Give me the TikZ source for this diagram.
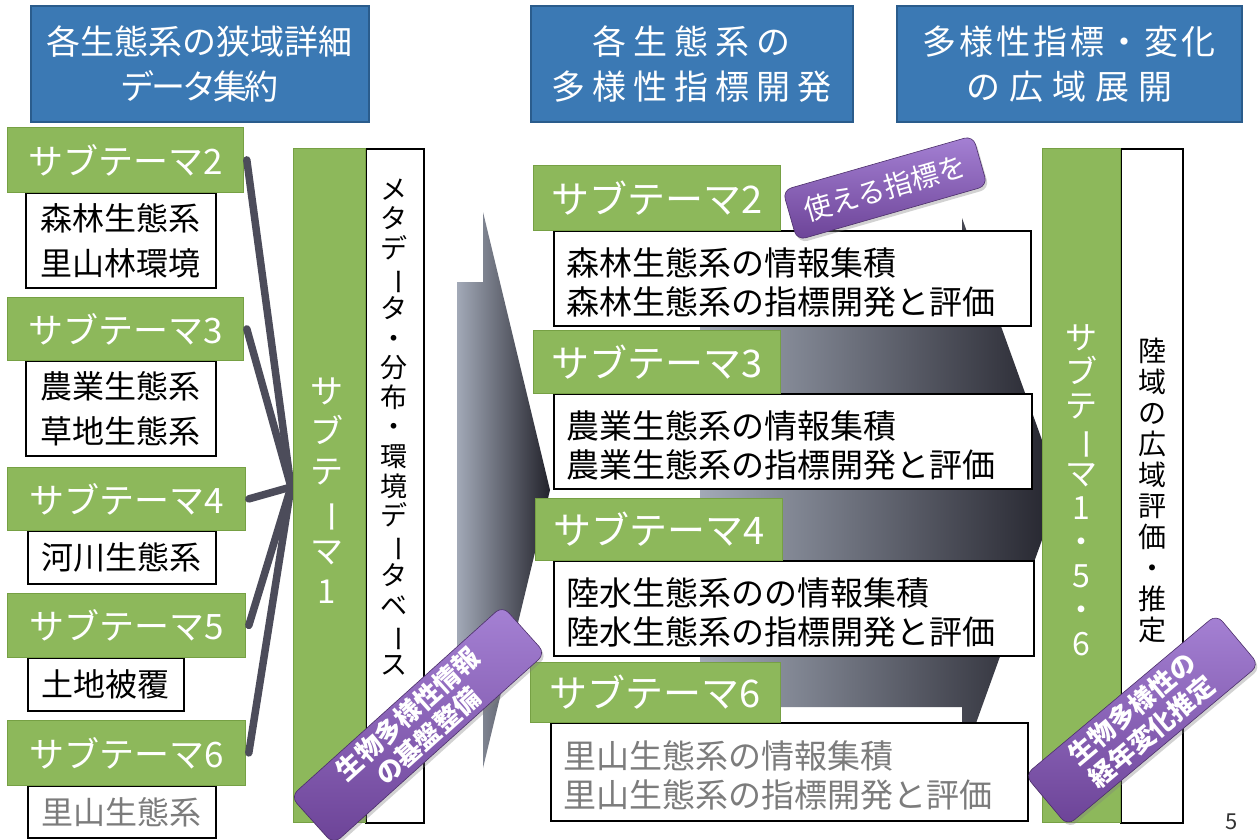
\documentclass[tikz,border=0pt]{standalone}
\usepackage{fontspec}
\usepackage{graphicx}
\setmainfont{Noto Sans CJK JP}
\usetikzlibrary{shadows}
\definecolor{hdrblue}{HTML}{3B79B4}
\definecolor{hdrborder}{HTML}{2A5C8C}
\definecolor{stgreen}{HTML}{8DB85B}
\definecolor{stgreenb}{HTML}{76A044}
\definecolor{purtop}{HTML}{A581D4}
\definecolor{purbot}{HTML}{6C4397}
\definecolor{linegray}{HTML}{4C4C5A}
\definecolor{arrowlight}{HTML}{A2A9B7}
\definecolor{arrowdark}{HTML}{23232C}
\definecolor{txtgray}{HTML}{7C7C7C}
\newcommand{\vbar}{\rotatebox[origin=c]{-90}{ー}}
\def\lspi#1{\ifx#1\relax\else\kern\lspamt#1\expandafter\lspi\fi}
\newcommand{\lsp}[2]{\mbox{\def\lspamt{#1}\kern-\lspamt\lspi#2\relax}}
\begin{document}
\begin{tikzpicture}[x=1pt,y=-1pt,
  hdr/.style={draw=hdrborder, line width=1.5pt, fill=hdrblue, text=white, font=\fontsize{34}{45}\selectfont, align=center, inner sep=0pt, anchor=north west},
  gbox/.style={draw=stgreenb, line width=0.8pt, fill=stgreen, text=white, inner sep=0pt, anchor=north west},
  wbox/.style={draw=black, line width=1.8pt, fill=white, inner sep=0pt, anchor=north west},
  conn/.style={draw=linegray, line width=7.5pt, line cap=round},
  plabel/.style={rounded corners=9pt, top color=purtop, bottom color=purbot, draw=purbot!70!black, line width=0.6pt, text=white, align=center, inner sep=0pt, font=\bfseries\fontsize{26}{30}\selectfont, drop shadow={opacity=0.35, shadow xshift=2pt, shadow yshift=-3pt}},
  vtext/.style={align=center, inner sep=0pt},
  mtext/.style={anchor=west, inner sep=0pt, align=left, font=\fontsize{33}{39}\selectfont}
]
\useasboundingbox (0,0) rectangle (1258,839);
\fill[white] (0,0) rectangle (1258,839);

% headers
\node[hdr, minimum width=338, minimum height=116] (h1) at (30,5) {\lsp{0pt}{各生態系の狭域詳細}\\\lsp{-3pt}{データ集約}};
\node[hdr, minimum width=322, minimum height=116] (h2) at (530,5) {\lsp{7pt}{各生態系の}\\\lsp{7pt}{多様性指標開発}};
\node[hdr, minimum width=345, minimum height=116] (h3) at (896,5) {\lsp{3pt}{多様性指標・変化}\\\lsp{9pt}{の広域展開}};

% big arrows
\shade[left color=arrowlight, right color=arrowdark] (457,282) -- (483,282) -- (483,212) -- (550,490) -- (483,768) -- (483,698) -- (457,698) -- cycle;
\shade[left color=arrowlight, right color=arrowdark] (700,273) -- (962,273) -- (962,218) -- (1060,490) -- (962,762) -- (962,707) -- (700,707) -- cycle;

% left column
\coordinate (conv) at (291,487);
\node[wbox, minimum width=190, minimum height=95, font=\fontsize{32}{45}\selectfont, align=center] (w2) at (25,192) {森林生態系\\里山林環境};
\node[wbox, minimum width=190, minimum height=95, font=\fontsize{32}{45}\selectfont, align=center] (w3) at (25,360) {農業生態系\\草地生態系};
\node[wbox, minimum width=188, minimum height=53, font=\fontsize{32}{45}\selectfont] (w4) at (27,530) {河川生態系};
\node[wbox, minimum width=156, minimum height=53, font=\fontsize{32}{45}\selectfont] (w5) at (27,657) {土地被覆};
\node[wbox, minimum width=188, minimum height=52, font=\fontsize{32}{45}\selectfont, text=txtgray] (w6) at (27,785) {里山生態系};
\node[gbox, minimum width=236, minimum height=65, font=\fontsize{35}{40}\selectfont] (g2) at (7,127) {サブテーマ2};
\node[gbox, minimum width=236, minimum height=63, font=\fontsize{35}{40}\selectfont] (g3) at (7,297) {サブテーマ3};
\node[gbox, minimum width=238, minimum height=63, font=\fontsize{35}{40}\selectfont] (g4) at (7,467) {サブテーマ4};
\node[gbox, minimum width=238, minimum height=64, font=\fontsize{35}{40}\selectfont] (g5) at (7,593) {サブテーマ5};
\node[gbox, minimum width=238, minimum height=65, font=\fontsize{35}{40}\selectfont] (g6) at (7,720) {サブテーマ6};
\draw[conn] ([xshift=3pt]g2.east) -- (conv);
\draw[conn] ([xshift=3pt]g3.east) -- (conv);
\draw[conn] ([xshift=3pt]g4.east) -- (conv);
\draw[conn] ([xshift=3pt]g5.east) -- (conv);
\draw[conn] ([xshift=3pt]g6.east) -- (conv);

% subtheme 1 bar + database
\node[wbox, minimum width=58, minimum height=674] (db) at (365,148) {};
\node[gbox, minimum width=72, minimum height=674] (st1) at (293,148) {};
\node[vtext, text=white, font=\fontsize{33}{40}\selectfont] (st1t) at (327,491) {サ\\ブ\\テ\\\vbar\\マ\\1};
\node[vtext, font=\fontsize{27}{29.6}\selectfont] (dbt) at (394,427) {メ\\タ\\デ\\\vbar\\タ\\・\\分\\布\\・\\環\\境\\デ\\\vbar\\タ\\ベ\\\vbar\\ス};

% middle column
\node[wbox, minimum width=477, minimum height=95] (m2w) at (553,230) {};
\node[mtext] (m2t) at ([xshift=13pt,yshift=-4pt]m2w.west) {森林生態系の情報集積\\森林生態系の指標開発と評価};
\node[wbox, minimum width=478, minimum height=95] (m3w) at (553,393) {};
\node[mtext] (m3t) at ([xshift=13pt,yshift=-4pt]m3w.west) {農業生態系の情報集積\\農業生態系の指標開発と評価};
\node[wbox, minimum width=480, minimum height=95] (m4w) at (553,560) {};
\node[mtext] (m4t) at ([xshift=13pt,yshift=-4pt]m4w.west) {陸水生態系のの情報集積\\陸水生態系の指標開発と評価};
\node[wbox, minimum width=477, minimum height=98] (m6w) at (550,722) {};
\node[mtext, text=txtgray] (m6t) at ([xshift=13pt,yshift=-4pt]m6w.west) {里山生態系の情報集積\\里山生態系の指標開発と評価};
\node[gbox, minimum width=247, minimum height=65, font=\fontsize{38}{40}\selectfont] (m2g) at (533,165) {サブテーマ2};
\node[gbox, minimum width=247, minimum height=63, font=\fontsize{38}{40}\selectfont] (m3g) at (533,330) {サブテーマ3};
\node[gbox, minimum width=247, minimum height=62, font=\fontsize{38}{40}\selectfont] (m4g) at (535,498) {サブテーマ4};
\node[gbox, minimum width=250, minimum height=60, font=\fontsize{38}{40}\selectfont] (m6g) at (530,662) {サブテーマ6};

% right bar
\node[wbox, minimum width=62, minimum height=674] (rw) at (1120,148) {};
\node[gbox, minimum width=78, minimum height=674] (rg) at (1042,148) {};
\node[vtext, text=white, font=\fontsize{32}{34}\selectfont] (rgt) at (1081,490) {サ\\ブ\\テ\\\vbar\\マ\\1\\・\\5\\・\\6};
\node[vtext, font=\fontsize{28}{31}\selectfont] (rwt) at (1152,490) {陸\\域\\の\\広\\域\\評\\価\\・\\推\\定};

% purple labels
\node[plabel, rotate=42, minimum width=285, minimum height=64] (pl1) at (418,725) {生物多様性情報\\の基盤整備};
\node[plabel, rotate=16, minimum width=198, minimum height=52, font=\fontsize{28}{30}\selectfont] (pl2) at (885,188) {使える指標を};
\node[plabel, rotate=40, minimum width=250, minimum height=66] (pl3) at (1142,720) {生物多様性の\\経年変化推定};

% page number
\node[font=\fontsize{22}{24}\selectfont, text=black!80] (pg) at (1232,822) {5};
\end{tikzpicture}
\end{document}
